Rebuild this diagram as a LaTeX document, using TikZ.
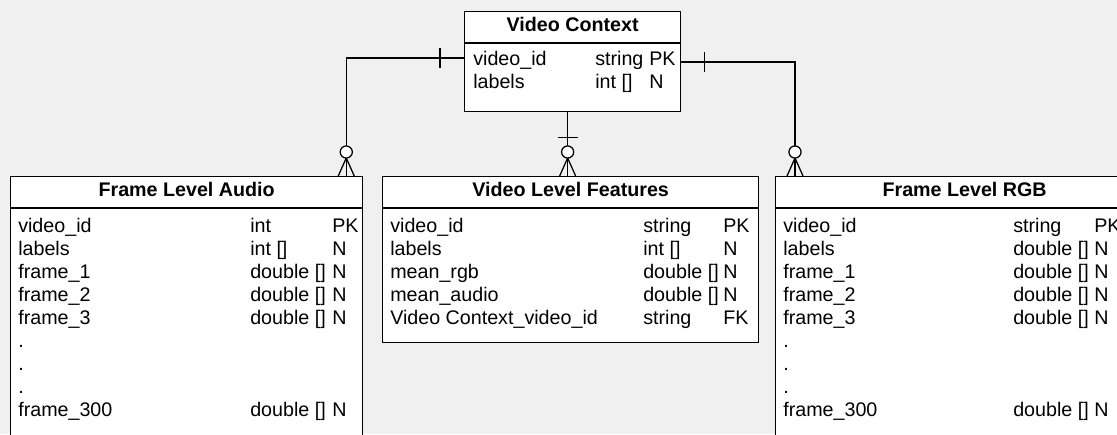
\documentclass[tikz,border=0pt]{standalone}
\usepackage{fontspec}
\setmainfont{Liberation Sans}
\usetikzlibrary{calc}
\tikzstyle{entity} = [draw, line width=0.9pt, fill=white, anchor=north west, inner sep=0pt]
\tikzstyle{head} = [anchor=base, inner sep=0pt, font=\fontsize{14}{16}\selectfont\bfseries]
\tikzstyle{field} = [anchor=base west, inner sep=0pt, font=\fontsize{14}{16}\selectfont]
\tikzstyle{link} = [line width=0.9pt]
\tikzset{
  zeromany/.pic={
    \draw[link] (-8,0) -- (0,-18) -- (8,0);
    \draw[link, fill=white] (0,-24) circle[radius=4.3pt];
  },
  onebar/.pic={\draw[link] (0,-10) -- (0,10);}
}

\begin{document}
\begin{tikzpicture}[x=0.025cm, y=-0.025cm]
                \useasboundingbox (0,0) rectangle (1117,434);
                \clip (0,0) rectangle (1117,434);
                \fill[black!6] (0,0) rectangle (1117,434);

                % Entities
                \node[entity, minimum width=216*0.025cm, minimum height=100*0.025cm] (vc) at (464,11) {};
                \node[entity, minimum width=352*0.025cm, minimum height=300*0.025cm] (audio) at (10,176) {};
                \node[entity, minimum width=376*0.025cm, minimum height=166*0.025cm] (vlf) at (382,176) {};
                \node[entity, minimum width=378*0.025cm, minimum height=300*0.025cm] (rgb) at (775,176) {};

                % Headers and dividers
                \foreach \ent/\title in {vc/Video Context, audio/Frame Level Audio, vlf/Video Level Features, rgb/Frame Level RGB} {
                  \node[head] (\ent-head) at ($(\ent.north)+(0,20)$) {\title};
                  \draw[link] ($(\ent.north west)+(0,32)$) -- ($(\ent.north east)+(0,32)$);
                }

                % Fields of Video Context
                \foreach \fname/\ftype/\fkey [count=\i] in {video\_id/string/PK, labels/{int []}/N} {
                  \node[field] (vc-n\i) at ($(vc.north west)+(9,{54+23*(\i-1)})$) {\fname};
                  \node[field] (vc-t\i) at ($(vc.north west)+(131,{54+23*(\i-1)})$) {\ftype};
                  \node[field] (vc-k\i) at ($(vc.north west)+(185,{54+23*(\i-1)})$) {\fkey};
                }

                % Fields of Frame Level Audio
                \foreach \fname/\ftype/\fkey [count=\i] in {video\_id/int/PK, labels/{int []}/N,
                    frame\_1/{double []}/N, frame\_2/{double []}/N, frame\_3/{double []}/N,
                    ./{}/{}, ./{}/{}, ./{}/{}, frame\_300/{double []}/N} {
                  \node[field] (audio-n\i) at ($(audio.north west)+(8,{56+23*(\i-1)})$) {\fname};
                  \node[field] (audio-t\i) at ($(audio.north west)+(240,{56+23*(\i-1)})$) {\ftype};
                  \node[field] (audio-k\i) at ($(audio.north west)+(322,{56+23*(\i-1)})$) {\fkey};
                }

                % Fields of Video Level Features
                \foreach \fname/\ftype/\fkey [count=\i] in {video\_id/string/PK, labels/{int []}/N,
                    mean\_rgb/{double []}/N, mean\_audio/{double []}/N, Video Context\_video\_id/string/FK} {
                  \node[field] (vlf-n\i) at ($(vlf.north west)+(8,{56+23*(\i-1)})$) {\fname};
                  \node[field] (vlf-t\i) at ($(vlf.north west)+(261,{56+23*(\i-1)})$) {\ftype};
                  \node[field] (vlf-k\i) at ($(vlf.north west)+(341,{56+23*(\i-1)})$) {\fkey};
                }

                % Fields of Frame Level RGB
                \foreach \fname/\ftype/\fkey [count=\i] in {video\_id/string/PK, labels/{double []}/N,
                    frame\_1/{double []}/N, frame\_2/{double []}/N, frame\_3/{double []}/N,
                    ./{}/{}, ./{}/{}, ./{}/{}, frame\_300/{double []}/N} {
                  \node[field] (rgb-n\i) at ($(rgb.north west)+(8,{56+23*(\i-1)})$) {\fname};
                  \node[field] (rgb-t\i) at ($(rgb.north west)+(238,{56+23*(\i-1)})$) {\ftype};
                  \node[field] (rgb-k\i) at ($(rgb.north west)+(319,{56+23*(\i-1)})$) {\fkey};
                }

                % Relationships
                \coordinate (audiolink) at ($(audio.north east)+(-17,0)$);
                \coordinate (rgblink) at ($(rgb.north west)+(20,0)$);
                \coordinate (vcmid) at ($(vc.south)+(-5,0)$);
                \draw[link] ($(vc.north west)+(0,47)$) -| (audiolink);
                \draw[link] ($(vc.north east)+(0,51)$) -| (rgblink);
                \draw[link] (vcmid) -- (vcmid |- vlf.north);

                \pic at ($(vc.north west)+(-24,47)$) {onebar};
                \pic at ($(vc.north east)+(23,51)$) {onebar};
                \pic[rotate=90] at ($(vcmid)+(0,25)$) {onebar};
                \pic at (audiolink) {zeromany};
                \pic at (rgblink) {zeromany};
                \pic at (vcmid |- vlf.north) {zeromany};
            \end{tikzpicture}
\end{document}
